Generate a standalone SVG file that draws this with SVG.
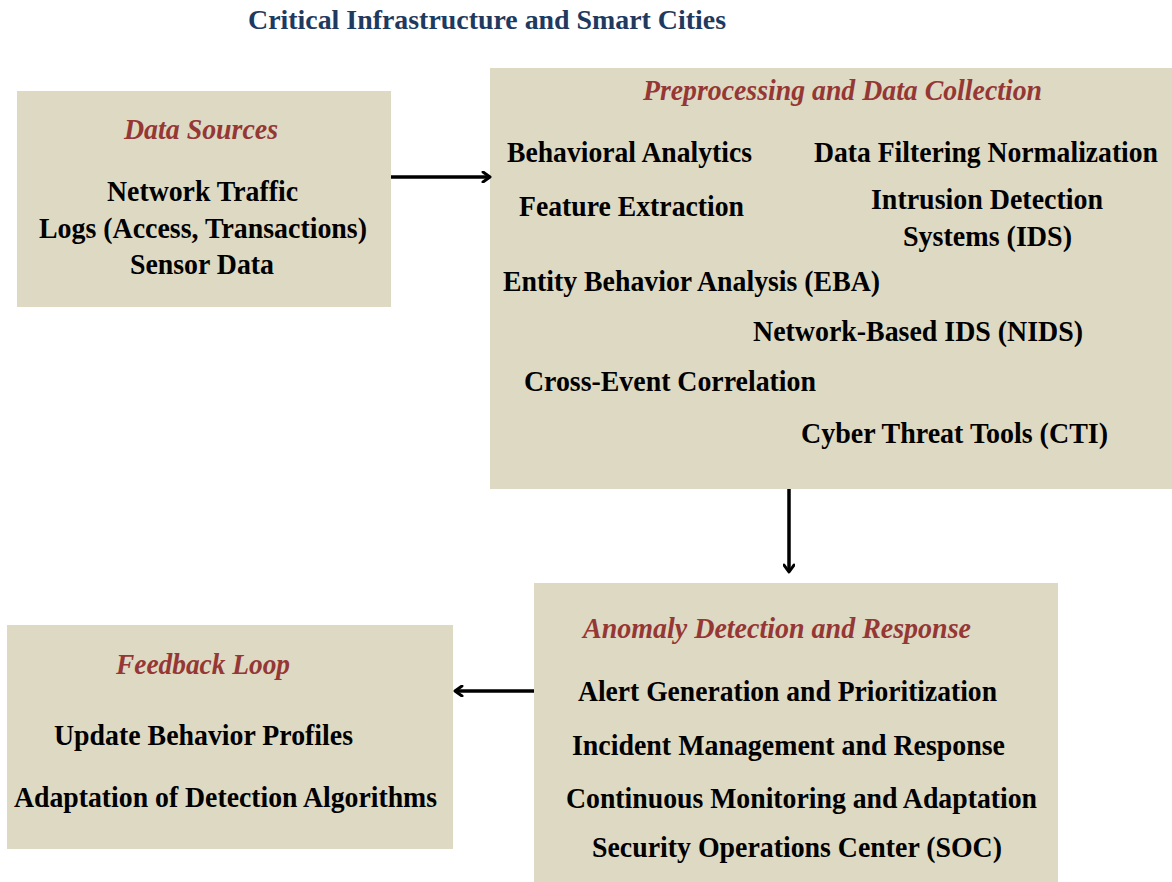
<svg xmlns="http://www.w3.org/2000/svg" width="1172" height="882" viewBox="0 0 1172 882">
<style>
.box{fill:#DDD9C3}
.t{font-family:"Liberation Serif","Times New Roman",serif;font-weight:bold;font-size:30px;fill:#000}
.h{font-family:"Liberation Serif","Times New Roman",serif;font-weight:bold;font-style:italic;font-size:30px;fill:#953735}
.title{font-family:"Liberation Serif","Times New Roman",serif;font-weight:bold;font-size:28px;fill:#1F3A60}
.c{fill:none;stroke:#000;stroke-width:3.5}
</style>
<defs>
<marker id="ah" viewBox="0 0 12 12" refX="10" refY="6" markerWidth="12" markerHeight="12" markerUnits="userSpaceOnUse" orient="auto">
<path d="M3,1 L10,6 L3,11" fill="none" stroke="#000" stroke-width="3" stroke-linecap="round" stroke-linejoin="round"/>
</marker>
</defs>
<text class="title" x="248" y="29" textLength="478" lengthAdjust="spacingAndGlyphs">Critical Infrastructure and Smart Cities</text>
<g id="data-sources">
<rect class="box" x="17" y="91" width="374" height="216"/>
<text class="h" x="124" y="139" textLength="154" lengthAdjust="spacingAndGlyphs">Data Sources</text>
<text class="t" x="107" y="201" textLength="191" lengthAdjust="spacingAndGlyphs">Network Traffic</text>
<text class="t" x="39" y="238" textLength="328" lengthAdjust="spacingAndGlyphs">Logs (Access, Transactions)</text>
<text class="t" x="130" y="274" textLength="144" lengthAdjust="spacingAndGlyphs">Sensor Data</text>
</g>
<g id="preprocessing">
<rect class="box" x="490" y="68" width="682" height="421"/>
<text class="h" x="643" y="100" textLength="399" lengthAdjust="spacingAndGlyphs">Preprocessing and Data Collection</text>
<text class="t" x="507" y="162" textLength="245" lengthAdjust="spacingAndGlyphs">Behavioral Analytics</text>
<text class="t" x="814" y="162" textLength="344" lengthAdjust="spacingAndGlyphs">Data Filtering Normalization</text>
<text class="t" x="519" y="216" textLength="225" lengthAdjust="spacingAndGlyphs">Feature Extraction</text>
<text class="t" x="871" y="209" textLength="232" lengthAdjust="spacingAndGlyphs">Intrusion Detection</text>
<text class="t" x="903" y="246" textLength="169" lengthAdjust="spacingAndGlyphs">Systems (IDS)</text>
<text class="t" x="503" y="291" textLength="377" lengthAdjust="spacingAndGlyphs">Entity Behavior Analysis (EBA)</text>
<text class="t" x="753" y="341" textLength="330" lengthAdjust="spacingAndGlyphs">Network-Based IDS (NIDS)</text>
<text class="t" x="524" y="391" textLength="292" lengthAdjust="spacingAndGlyphs">Cross-Event Correlation</text>
<text class="t" x="801" y="443" textLength="307" lengthAdjust="spacingAndGlyphs">Cyber Threat Tools (CTI)</text>
</g>
<g id="anomaly">
<rect class="box" x="534" y="583" width="524" height="299"/>
<text class="h" x="583" y="638" textLength="388" lengthAdjust="spacingAndGlyphs">Anomaly Detection and Response</text>
<text class="t" x="578" y="701" textLength="419" lengthAdjust="spacingAndGlyphs">Alert Generation and Prioritization</text>
<text class="t" x="572" y="755" textLength="433" lengthAdjust="spacingAndGlyphs">Incident Management and Response</text>
<text class="t" x="566" y="808" textLength="471" lengthAdjust="spacingAndGlyphs">Continuous Monitoring and Adaptation</text>
<text class="t" x="592" y="857" textLength="410" lengthAdjust="spacingAndGlyphs">Security Operations Center (SOC)</text>
</g>
<g id="feedback">
<rect class="box" x="7" y="625" width="446" height="224"/>
<text class="h" x="116" y="674" textLength="174" lengthAdjust="spacingAndGlyphs">Feedback Loop</text>
<text class="t" x="54" y="745" textLength="299" lengthAdjust="spacingAndGlyphs">Update Behavior Profiles</text>
<text class="t" x="14" y="807" textLength="423" lengthAdjust="spacingAndGlyphs">Adaptation of Detection Algorithms</text>
</g>
<g id="connectors">
<line class="c" x1="391" y1="177" x2="490" y2="177" marker-end="url(#ah)"/>
<line class="c" x1="789" y1="489" x2="789" y2="572" marker-end="url(#ah)"/>
<line class="c" x1="534" y1="691" x2="455" y2="691" marker-end="url(#ah)"/>
</g>
</svg>
